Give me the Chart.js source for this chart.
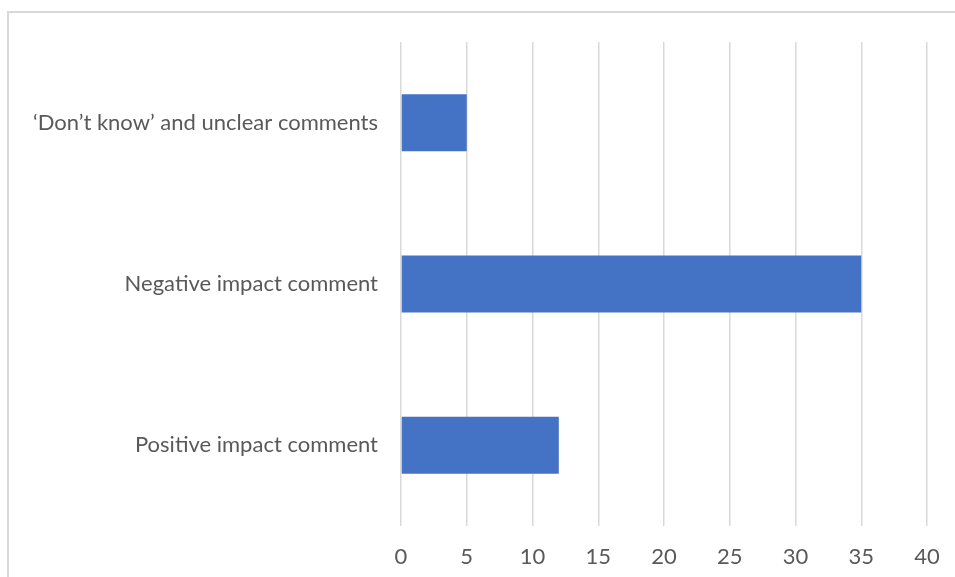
<!DOCTYPE html>
<html>
<head>
<meta charset="utf-8">
<script src="https://cdn.jsdelivr.net/npm/chart.js@4/dist/chart.umd.min.js"></script>
<style>
html,body{margin:0;padding:0;background:#fff;}
#wrap{position:relative;width:955px;height:577px;overflow:hidden;}
#frame{position:absolute;left:7px;top:11px;width:1000px;height:700px;border-left:2px solid #d9d9d9;border-top:2px solid #d9d9d9;box-sizing:border-box;pointer-events:none;}
canvas{position:absolute;left:0;top:0;}
</style>
</head>
<body>
<div id="wrap">
<canvas id="c" width="955" height="577"></canvas>
<div id="frame"></div>
</div>
<script>
const categories = ["\u2018Don\u2019t know\u2019 and unclear comments", "Negative impact comment", "Positive impact comment"];
const values = [5, 35, 12];
const xTicks = [0, 5, 10, 15, 20, 25, 30, 35, 40];

const FONT = "Lato, 'Open Sans', sans-serif";
new Chart(document.getElementById('c'), {
  type: 'bar',
  data: {
    labels: categories,
    datasets: [{
      data: values,
      backgroundColor: '#4472C4',
      borderWidth: 0,
      categoryPercentage: 1,
      barPercentage: 0.353
    }]
  },
  options: {
    indexAxis: 'y',
    responsive: false,
    animation: false,
    layout: { padding: { top: 42, right: 28, bottom: 0, left: 0 } },
    plugins: { legend: { display: false }, tooltip: { enabled: false } },
    scales: {
      x: {
        min: xTicks[0], max: xTicks[xTicks.length - 1],
        afterBuildTicks: (s) => { s.ticks = xTicks.map(v => ({ value: v })); },
        grid: { color: '#d9d9d9', lineWidth: 1.5, drawTicks: false },
        border: { display: false },
        ticks: { color: '#595959', font: { family: FONT, size: 22 }, padding: 18 },
        afterFit: (s) => { s.height = 51; s.paddingLeft = 0; s.paddingRight = 0; }
      },
      y: {
        grid: { display: false, drawTicks: false },
        border: { display: false },
        ticks: { color: '#595959', font: { family: FONT, size: 22 }, padding: 23 },
        afterFit: (s) => { s.width = 401; s.paddingTop = 0; s.paddingBottom = 0; }
      }
    }
  }
});
</script>
</body>
</html>
